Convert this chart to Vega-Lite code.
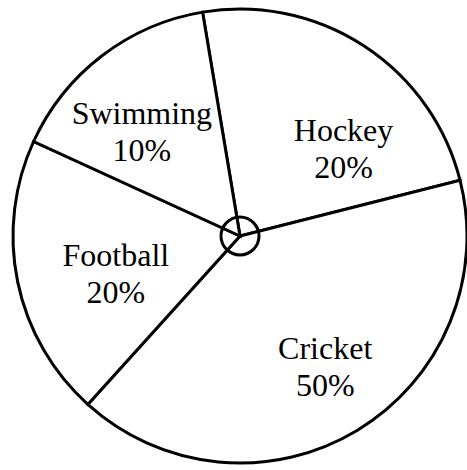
{
  "$schema": "https://vega.github.io/schema/vega-lite/v6.json",
  "width": 454,
  "height": 468,
  "autosize": {"type": "none"},
  "padding": {"left": 13, "top": 2, "right": 0, "bottom": 0},
  "background": "white",
  "config": {"view": {"stroke": null}},
  "layer": [
    {
      "data": {"values": [
        {"sport": "Hockey", "share": 20, "angle": 85.3, "rank": 1},
        {"sport": "Cricket", "share": 50, "angle": 146.3, "rank": 2},
        {"sport": "Football", "share": 20, "angle": 72.5, "rank": 3},
        {"sport": "Swimming", "share": 10, "angle": 55.9, "rank": 4}
      ]},
      "layer": [
        {
          "mark": {"type": "arc", "outerRadius": 227, "fill": "white", "stroke": "black", "strokeWidth": 3},
          "encoding": {
            "theta": {"field": "angle", "type": "quantitative", "stack": true, "scale": {"range": [-0.1658, 6.1174]}},
            "order": {"field": "rank", "type": "quantitative"}
          }
        },
        {
          "transform": [{"calculate": "datum.sport + '\\n' + datum.share + '%'", "as": "label"}],
          "mark": {
            "type": "text", "radius": 140, "fontSize": 32, "lineHeight": 37,
            "font": "Liberation Serif",
            "lineBreak": "\n", "color": "black", "align": "center", "baseline": "middle",
            "dx": {"expr": "datum.sport == 'Hockey' ? 27 : datum.sport == 'Cricket' ? 13 : datum.sport == 'Football' ? 13 : -13"},
            "dy": {"expr": "datum.sport == 'Hockey' ? 12 : datum.sport == 'Cricket' ? -7 : datum.sport == 'Football' ? -8 : -11"}
          },
          "encoding": {
            "theta": {"field": "angle", "type": "quantitative", "stack": true},
            "order": {"field": "rank", "type": "quantitative"},
            "text": {"field": "label", "type": "nominal"}
          }
        }
      ]
    },
    {
      "data": {"values": [{"part": "centre", "v": 1}]},
      "mark": {"type": "arc", "outerRadius": 19, "filled": false, "stroke": "black", "strokeWidth": 3},
      "encoding": {"theta": {"field": "v", "type": "quantitative"}}
    }
  ],
  "resolve": {"scale": {"theta": "independent"}}
}
